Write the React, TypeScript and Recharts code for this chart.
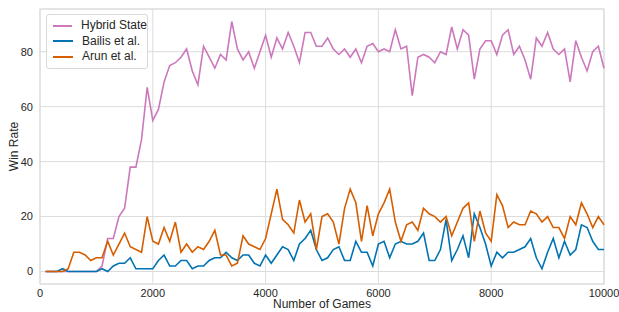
import { LineChart, Line, XAxis, YAxis, CartesianGrid, ReferenceArea } from "recharts";

// number of games played (x)
const games = [
  100, 200, 300, 400, 500, 600, 700, 800, 900, 1000,
  1100, 1200, 1300, 1400, 1500, 1600, 1700, 1800, 1900, 2000,
  2100, 2200, 2300, 2400, 2500, 2600, 2700, 2800, 2900, 3000,
  3100, 3200, 3300, 3400, 3500, 3600, 3700, 3800, 3900, 4000,
  4100, 4200, 4300, 4400, 4500, 4600, 4700, 4800, 4900, 5000,
  5100, 5200, 5300, 5400, 5500, 5600, 5700, 5800, 5900, 6000,
  6100, 6200, 6300, 6400, 6500, 6600, 6700, 6800, 6900, 7000,
  7100, 7200, 7300, 7400, 7500, 7600, 7700, 7800, 7900, 8000,
  8100, 8200, 8300, 8400, 8500, 8600, 8700, 8800, 8900, 9000,
  9100, 9200, 9300, 9400, 9500, 9600, 9700, 9800, 9900, 10000,
];

const hybridState = [
  0, 0, 0, 0, 0, 0, 0, 0, 0, 0,
  2, 12, 12, 20, 23, 38, 38, 48, 67, 55,
  59, 69, 75, 76, 78, 81, 73, 68, 82, 78,
  74, 79, 77, 91, 81, 77, 80, 74, 80, 86,
  78, 85, 81, 87, 82, 76, 87, 87, 82, 82,
  85, 81, 79, 81, 78, 81, 76, 82, 83, 80,
  81, 80, 88, 81, 82, 64, 78, 79, 78, 76,
  80, 79, 89, 81, 88, 86, 70, 81, 84, 84,
  79, 86, 88, 79, 82, 77, 70, 85, 82, 87,
  81, 79, 81, 69, 84, 78, 73, 80, 82, 74,
];

const bailis = [
  0, 0, 0, 1, 0, 0, 0, 0, 0, 0,
  1, 0, 2, 3, 3, 5, 1, 1, 1, 1,
  4, 6, 2, 2, 4, 4, 1, 2, 2, 4,
  5, 5, 7, 5, 4, 6, 6, 3, 2, 6,
  3, 6, 9, 8, 4, 10, 12, 15, 8, 4,
  5, 8, 9, 4, 4, 11, 7, 7, 2, 10,
  11, 5, 10, 11, 10, 10, 11, 14, 4, 4,
  8, 19, 4, 8, 13, 5, 21, 16, 10, 2,
  7, 5, 7, 7, 8, 9, 12, 5, 1, 7,
  12, 5, 11, 6, 8, 17, 16, 11, 8, 8,
];

const arun = [
  0, 0, 0, 0, 1, 7, 7, 6, 4, 5,
  5, 11, 6, 10, 14, 9, 8, 7, 20, 11,
  10, 16, 11, 18, 7, 10, 7, 9, 8, 11,
  15, 6, 6, 2, 3, 13, 10, 9, 8, 12,
  21, 30, 19, 17, 14, 26, 18, 21, 8, 20,
  21, 18, 10, 23, 30, 25, 11, 24, 13, 21,
  25, 30, 18, 11, 17, 18, 15, 23, 21, 20,
  18, 20, 13, 18, 23, 25, 11, 22, 14, 11,
  28, 24, 16, 18, 17, 17, 22, 21, 18, 20,
  16, 16, 12, 20, 17, 25, 21, 16, 20, 17,
];

const xTicks = [0, 2000, 4000, 6000, 8000, 10000];
const yTicks = [0, 20, 40, 60, 80];

const series = [
  { key: "hybrid", name: "Hybrid State", color: "#CC78BC" },
  { key: "bailis", name: "Bailis et al.", color: "#0173B2" },
  { key: "arun", name: "Arun et al.", color: "#D55E00" },
];

const data = games.map((g, i) => ({
  games: g,
  hybrid: hybridState[i],
  bailis: bailis[i],
  arun: arun[i],
}));

const font = "Arial, 'Liberation Sans', sans-serif";
const gridColor = "#dcdcdc";
const yMin = -4.55;
const yMax = 95.55;

export default function App() {
  return (
    <div style={{ position: "absolute", left: 0, top: 0, width: 619, height: 312, background: "#fff", fontFamily: font }}>
      <LineChart width={619} height={312} data={data} margin={{ top: 9, right: 15, bottom: 0, left: 8 }}>
        <CartesianGrid stroke={gridColor} strokeWidth={1} />
        <ReferenceArea x1={0} x2={10000} y1={yMin} y2={yMax} fill="none" stroke={gridColor} strokeWidth={1.2} />
        <XAxis
          type="number"
          dataKey="games"
          domain={[0, 10000]}
          ticks={xTicks}
          axisLine={false}
          tickLine={false}
          tickSize={0}
          tickMargin={5}
          height={28}
          tick={{ fill: "#262626", fontSize: 11, fontFamily: font }}
          label={{ value: "Number of Games", position: "insideBottom", offset: 4, fill: "#262626", fontSize: 12, fontFamily: font }}
        />
        <YAxis
          type="number"
          domain={[yMin, yMax]}
          ticks={yTicks}
          allowDataOverflow
          axisLine={false}
          tickLine={false}
          tickSize={0}
          tickMargin={7}
          width={32}
          tick={{ fill: "#262626", fontSize: 11, fontFamily: font }}
          label={{ value: "Win Rate", angle: -90, position: "insideLeft", offset: 6, style: { textAnchor: "middle" }, fill: "#262626", fontSize: 12, fontFamily: font }}
        />
        {series.map((s) => (
          <Line
            key={s.key}
            type="linear"
            dataKey={s.key}
            name={s.name}
            stroke={s.color}
            strokeWidth={1.6}
            dot={false}
            activeDot={false}
            isAnimationActive={false}
          />
        ))}
      </LineChart>

      {/* legend box, upper left like matplotlib's */}
      <div
        style={{
          position: "absolute",
          left: 46,
          top: 14,
          width: 102,
          boxSizing: "border-box",
          padding: "3px 0 3px 6px",
          border: "1px solid #d8d8d8",
          borderRadius: 3,
          background: "rgba(255,255,255,0.85)",
          fontSize: 12,
          color: "#262626",
          lineHeight: "15.5px",
          whiteSpace: "nowrap",
        }}
      >
        {series.map((s) => (
          <div key={s.key} style={{ display: "flex", alignItems: "center" }}>
            <span style={{ display: "inline-block", width: 20, height: 0, borderTop: `2px solid ${s.color}`, marginRight: 9 }} />
            <span>{s.name}</span>
          </div>
        ))}
      </div>
    </div>
  );
}
